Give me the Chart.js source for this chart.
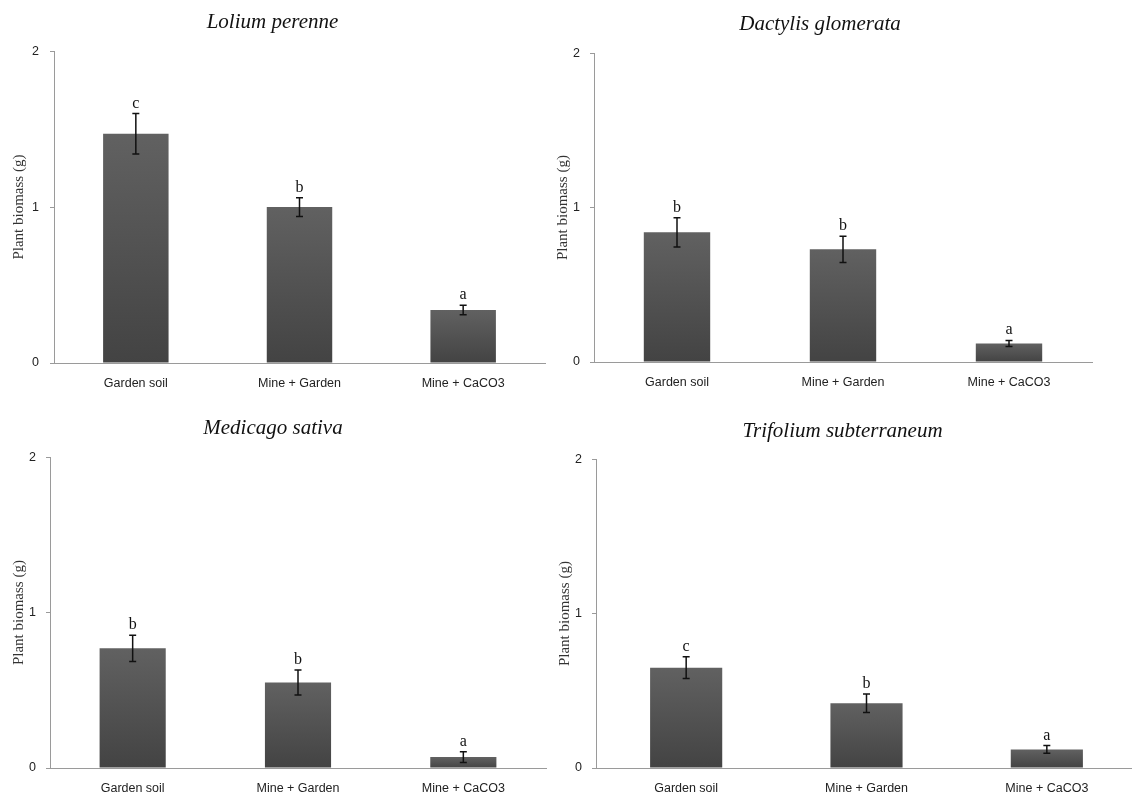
<!DOCTYPE html>
<html>
<head>
<meta charset="utf-8">
<script src="https://cdn.jsdelivr.net/npm/chart.js@4.4.0/dist/chart.umd.min.js"></script>
<style>
  html, body { margin: 0; padding: 0; background: #fff; overflow: hidden; }
  #page { position: relative; width: 1132px; height: 796px; overflow: hidden; }
  .panel { position: absolute; }
</style>
</head>
<body>
<div id="page">
  <div class="panel" style="left:0px;top:0px;width:560px;height:400px"><canvas id="c1"></canvas></div>
  <div class="panel" style="left:548px;top:0px;width:584px;height:400px"><canvas id="c2"></canvas></div>
  <div class="panel" style="left:0px;top:400px;width:560px;height:396px"><canvas id="c3"></canvas></div>
  <div class="panel" style="left:548px;top:400px;width:600px;height:396px"><canvas id="c4"></canvas></div>
</div>
<script>
const categories = ['Garden soil', 'Mine + Garden', 'Mine + CaCO3'];
const yTicks = [0, 1, 2];

const loliumMeans = [1.47, 1.00, 0.34];
const loliumErrors = [0.13, 0.06, 0.03];
const loliumLetters = ['c', 'b', 'a'];

const dactylisMeans = [0.84, 0.73, 0.12];
const dactylisErrors = [0.095, 0.085, 0.02];
const dactylisLetters = ['b', 'b', 'a'];

const medicagoMeans = [0.77, 0.55, 0.07];
const medicagoErrors = [0.085, 0.08, 0.035];
const medicagoLetters = ['b', 'b', 'a'];

const trifoliumMeans = [0.65, 0.42, 0.12];
const trifoliumErrors = [0.07, 0.06, 0.025];
const trifoliumLetters = ['c', 'b', 'a'];

const axisGrey = '#9a9a9a';

// error bars + significance letters, drawn from the bar elements
const errorBarPlugin = {
  id: 'errorBars',
  afterDatasetsDraw(chart) {
    const { ctx } = chart;
    const y = chart.scales.y;
    const ds = chart.data.datasets[0];
    chart.getDatasetMeta(0).data.forEach((bar, i) => {
      const v = ds.data[i];
      const e = ds.errors[i];
      const top = y.getPixelForValue(v + e);
      const bot = y.getPixelForValue(v - e);
      ctx.save();
      ctx.strokeStyle = '#111';
      ctx.lineWidth = 1.5;
      ctx.beginPath();
      ctx.moveTo(bar.x, top); ctx.lineTo(bar.x, bot);
      ctx.moveTo(bar.x - 3.5, top); ctx.lineTo(bar.x + 3.5, top);
      ctx.moveTo(bar.x - 3.5, bot); ctx.lineTo(bar.x + 3.5, bot);
      ctx.stroke();
      ctx.fillStyle = '#111';
      ctx.font = '16px "Liberation Serif", serif';
      ctx.textAlign = 'center';
      ctx.textBaseline = 'alphabetic';
      ctx.fillText(ds.letters[i], bar.x, top - 6);
      ctx.restore();
    });
  },
};

function barFill(context) {
  const chart = context.chart;
  if (!chart.chartArea) return '#555';
  const y = chart.scales.y;
  const v = context.raw;
  const top = y.getPixelForValue(v);
  const bot = y.getPixelForValue(0);
  const g = chart.ctx.createLinearGradient(0, top, 0, bot);
  g.addColorStop(0, '#616161');
  g.addColorStop(1, '#434343');
  return g;
}

function makeChart(id, title, means, errors, letters, box) {
  return new Chart(document.getElementById(id), {
    type: 'bar',
    data: {
      labels: categories,
      datasets: [{
        data: means,
        errors: errors,
        letters: letters,
        backgroundColor: barFill,
        borderWidth: 0,
        categoryPercentage: 1,
        barPercentage: 0.4,
      }],
    },
    options: {
      responsive: true,
      maintainAspectRatio: false,
      animation: false,
      layout: { padding: { left: 0, top: 0, bottom: 0, right: box.padRight } },
      plugins: {
        legend: { display: false },
        tooltip: { enabled: false },
        title: {
          display: true,
          text: title,
          color: '#111',
          font: { family: '"Liberation Serif", serif', size: 21, style: 'italic', weight: 'normal', lineHeight: 1.2 },
          padding: { top: box.titleTop, bottom: box.titleBottom },
        },
      },
      scales: {
        x: {
          grid: { display: true, drawOnChartArea: false, drawTicks: false, color: axisGrey },
          border: { display: true, color: axisGrey, width: 1 },
          ticks: { color: '#222', padding: box.xPad, font: { family: '"Liberation Sans", sans-serif', size: 12.5 } },
          afterFit(s) { s.height = box.xHeight; },
        },
        y: {
          min: 0,
          max: 2,
          afterBuildTicks(s) { s.ticks = yTicks.map((v) => ({ value: v })); },
          grid: { display: true, drawOnChartArea: false, drawTicks: true, tickLength: 4, color: axisGrey },
          border: { display: true, color: axisGrey, width: 1 },
          ticks: { color: '#222', padding: box.yPad, font: { family: '"Liberation Sans", sans-serif', size: 12.5 } },
          title: {
            display: true,
            text: 'Plant biomass (g)',
            color: '#333',
            font: { family: '"Liberation Serif", serif', size: 15, lineHeight: 1.2 },
            padding: { top: box.yTitlePad, bottom: 0 },
          },
          afterFit(s) { s.width = box.yWidth; },
        },
      },
    },
    plugins: [errorBarPlugin],
  });
}

makeChart('c1', 'Lolium perenne', loliumMeans, loliumErrors, loliumLetters,
  { padRight: 15, titleTop: 10, titleBottom: 16, xHeight: 37, xPad: 13, yWidth: 54, yPad: 11, yTitlePad: 10 });
makeChart('c2', 'Dactylis glomerata', dactylisMeans, dactylisErrors, dactylisLetters,
  { padRight: 40, titleTop: 12, titleBottom: 16, xHeight: 38, xPad: 13, yWidth: 46, yPad: 10, yTitlePad: 6 });
makeChart('c3', 'Medicago sativa', medicagoMeans, medicagoErrors, medicagoLetters,
  { padRight: 14, titleTop: 16, titleBottom: 16, xHeight: 28, xPad: 13, yWidth: 50, yPad: 10, yTitlePad: 10 });
makeChart('c4', 'Trifolium subterraneum', trifoliumMeans, trifoliumErrors, trifoliumLetters,
  { padRight: 11, titleTop: 19, titleBottom: 15, xHeight: 28, xPad: 13, yWidth: 48, yPad: 10, yTitlePad: 8 });
</script>
</body>
</html>
